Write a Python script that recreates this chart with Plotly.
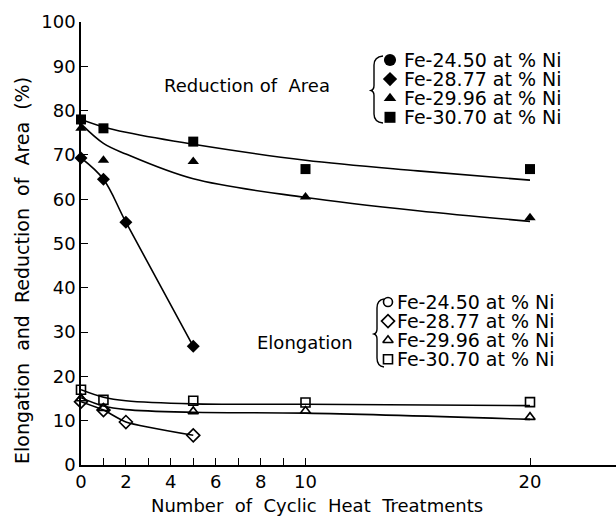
import plotly.graph_objects as go

# ---------------- data ----------------
# Reduction of Area (filled symbols)
ra_x_2877 = [0, 1, 2, 5]
ra_y_2877 = [69.3, 64.5, 54.8, 26.8]
ra_x_2996 = [0, 1, 5, 10, 20]
ra_y_2996 = [76.0, 68.8, 68.5, 60.5, 55.8]
ra_x_3070 = [0, 1, 5, 10, 20]
ra_y_3070 = [78.0, 76.0, 73.0, 66.8, 66.8]
# fitted curves (reduction of area)
ra_fit_x = [0, 1, 2, 5, 10, 15, 20]
ra_fit_2996 = [77.0, 72.6, 70.2, 64.6, 60.4, 57.4, 55.0]
ra_fit_3070 = [78.0, 76.3, 75.1, 72.4, 68.8, 66.4, 64.3]

# Elongation (open symbols)
el_x_2877 = [0, 1, 2, 5]
el_y_2877 = [14.3, 12.4, 9.7, 6.7]
el_x_2996 = [0, 1, 5, 10, 20]
el_y_2996 = [15.0, 12.8, 12.1, 12.2, 10.8]
el_x_3070 = [0, 1, 5, 10, 20]
el_y_3070 = [17.0, 14.7, 14.5, 14.1, 14.2]
# fitted curves (elongation)
el_fit_x = [0, 1, 2, 5, 10, 20]
el_fit_2996 = [15.2, 13.3, 12.5, 11.9, 11.7, 10.3]
el_fit_3070 = [17.0, 15.3, 14.5, 13.8, 13.7, 13.4]

alloys = ["Fe-24.50 at % Ni", "Fe-28.77 at % Ni", "Fe-29.96 at % Ni", "Fe-30.70 at % Ni"]

x_tick_vals = [0, 1, 2, 3, 4, 5, 6, 7, 8, 9, 10, 20]
x_tick_text = ["0", "", "2", "", "4", "", "6", "", "8", "", "10", "20"]
y_tick_vals = [0, 10, 20, 30, 40, 50, 60, 70, 80, 90, 100]

# ---------------- layout constants ----------------
W, H = 616, 518
ML, MR, MT, MB = 81, 0, 22, 53
PW, PH = W - ML - MR, H - MT - MB
PX_PER_X = 22.45
X_MAX = PW / PX_PER_X
Y_MAX = 100
PX_PER_Y = PH / Y_MAX
FONT = "DejaVu Sans"
BLACK = "black"


def px2x(px):
    return (px - ML) / PX_PER_X


def py2y(py):
    return (H - MB - py) / PX_PER_Y


def px2paper(px):
    return (px - ML) / PW


def py2paper(py):
    return (H - MB - py) / PH


fig = go.Figure()

line_style = dict(color=BLACK, width=1.6)

# fitted / connecting curves
fig.add_trace(go.Scatter(x=ra_fit_x, y=ra_fit_3070, mode="lines", line=dict(**line_style, shape="spline"),
                         showlegend=False, hoverinfo="skip"))
fig.add_trace(go.Scatter(x=ra_fit_x, y=ra_fit_2996, mode="lines", line=dict(**line_style, shape="spline"),
                         showlegend=False, hoverinfo="skip"))
fig.add_trace(go.Scatter(x=ra_x_2877, y=ra_y_2877, mode="lines", line=dict(**line_style, shape="spline", smoothing=1.0),
                         showlegend=False, hoverinfo="skip"))
fig.add_trace(go.Scatter(x=el_fit_x, y=el_fit_3070, mode="lines", line=dict(**line_style, shape="spline"),
                         showlegend=False, hoverinfo="skip"))
fig.add_trace(go.Scatter(x=el_fit_x, y=el_fit_2996, mode="lines", line=dict(**line_style, shape="spline"),
                         showlegend=False, hoverinfo="skip"))
fig.add_trace(go.Scatter(x=el_x_2877, y=el_y_2877, mode="lines", line=dict(**line_style, shape="spline", smoothing=0.6),
                         showlegend=False, hoverinfo="skip"))

# marker styles
m_ra = [
    dict(symbol="circle", size=11, color=BLACK),
    dict(symbol="diamond", size=10, color=BLACK),
    dict(symbol="triangle-up", size=10, color=BLACK),
    dict(symbol="square", size=10, color=BLACK),
]
m_el = [
    dict(symbol="circle-open", size=9, color=BLACK, line=dict(width=1.6, color=BLACK)),
    dict(symbol="diamond-open", size=10, color=BLACK, line=dict(width=1.6, color=BLACK)),
    dict(symbol="triangle-up-open", size=9, color=BLACK, line=dict(width=1.6, color=BLACK)),
    dict(symbol="square-open", size=9, color=BLACK, line=dict(width=1.6, color=BLACK)),
]

ra_data = [([], []), (ra_x_2877, ra_y_2877), (ra_x_2996, ra_y_2996), (ra_x_3070, ra_y_3070)]
el_data = [([], []), (el_x_2877, el_y_2877), (el_x_2996, el_y_2996), (el_x_3070, el_y_3070)]

for (xs, ys), m, name in zip(ra_data, m_ra, alloys):
    fig.add_trace(go.Scatter(x=xs, y=ys, mode="markers", marker=m, name=name,
                             showlegend=False, cliponaxis=False))
for (xs, ys), m, name in zip(el_data, m_el, alloys):
    fig.add_trace(go.Scatter(x=xs, y=ys, mode="markers", marker=m, name=name,
                             showlegend=False, cliponaxis=False))

# ---------------- legend keys (drawn as annotations + key markers) ----------------
annotations = []
shapes = []


def add_legend(top_py, step_py, key_px, text_px, styles, key_scale):
    for i, name in enumerate(alloys):
        py = top_py + i * step_py
        annotations.append(dict(x=px2x(text_px), y=py2y(py), text=name, showarrow=False,
                                xanchor="left", yanchor="middle", xref="x", yref="y",
                                height=18, valign="middle", borderpad=0,
                                font=dict(family=FONT, size=19, color=BLACK)))
        st = dict(styles[i])
        st["size"] = st["size"] * key_scale
        fig.add_trace(go.Scatter(x=[px2x(key_px)], y=[py2y(py)], mode="markers", marker=st,
                                 showlegend=False, hoverinfo="skip", cliponaxis=False))


add_legend(60, 19.1, 390, 403, m_ra, 1.1)
add_legend(302, 19.1, 388, 396, m_el, 1.0)


def bracket(top, bottom, xr, xl):
    mid = (top + bottom) / 2
    pts = [
        ("M", xr, top),
        ("Q", xl, top + 1, xl, top + 9),
        ("L", xl, mid - 4),
        ("Q", xl, mid, xl - 3, mid + 1),
        ("Q", xl, mid + 2, xl, mid + 6),
        ("L", xl, bottom - 9),
        ("Q", xl, bottom - 1, xr, bottom),
    ]
    path = ""
    for p in pts:
        cmd = p[0]
        coords = p[1:]
        s = []
        for j in range(0, len(coords), 2):
            s.append(f"{px2x(coords[j]):.4f},{py2y(coords[j + 1]):.4f}")
        path += cmd + " " + " ".join(s) + " "
    return dict(type="path", path=path.strip(), xref="x", yref="y",
                line=dict(color=BLACK, width=1.4))


shapes.append(bracket(56, 123, 383, 374))
shapes.append(bracket(299, 367, 384, 377))


def label(px, py, text, size, angle=0):
    return dict(x=px2paper(px), y=py2paper(py), text=text, showarrow=False,
                xanchor="center", yanchor="middle", textangle=angle,
                xref="paper", yref="paper", font=dict(family=FONT, size=size, color=BLACK))


# text labels
annotations.append(label(247, 85, "Reduction of  Area", 18))
annotations.append(label(305, 342, "Elongation", 18))
annotations.append(label(22, 271, "Elongation  and  Reduction  of  Area  (%)", 19, -90))
annotations.append(label(317, 505, "Number  of  Cyclic  Heat  Treatments", 18))

fig.update_layout(
    width=W, height=H,
    margin=dict(l=ML, r=MR, t=MT, b=MB, pad=0),
    paper_bgcolor="white", plot_bgcolor="white",
    showlegend=False,
    annotations=annotations,
    shapes=shapes,
    font=dict(family=FONT, color=BLACK),
)
fig.update_xaxes(range=[0, X_MAX], showgrid=False, zeroline=False, showline=True,
                 linecolor=BLACK, linewidth=1.6, ticks="inside", ticklen=7, tickwidth=1.4,
                 tickcolor=BLACK, tickvals=x_tick_vals, ticktext=x_tick_text,
                 tickfont=dict(family=FONT, size=18, color=BLACK))
fig.update_yaxes(range=[0, Y_MAX], showgrid=False, zeroline=False, showline=True,
                 linecolor=BLACK, linewidth=1.6, ticks="inside", ticklen=7, tickwidth=1.4,
                 tickcolor=BLACK, tickvals=y_tick_vals,
                 tickfont=dict(family=FONT, size=18, color=BLACK))

fig.write_html("out.html")
